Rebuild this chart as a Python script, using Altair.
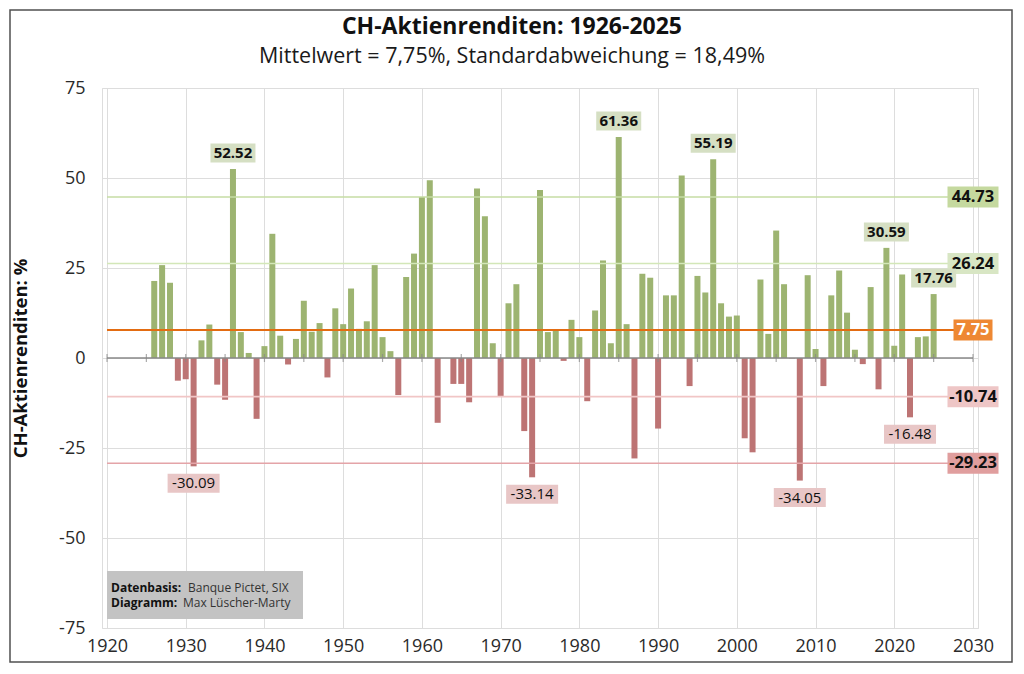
import altair as alt
import pandas as pd

# ---------------- data ----------------
years = list(range(1926, 2026))
returns = [
    21.4, 25.8, 20.9, -6.3, -5.9, -30.09, 4.9, 9.3, -7.4, -11.6,        # 1926-1935
    52.52, 7.2, 1.4, -16.9, 3.3, 34.5, 6.2, -1.8, 5.3, 15.9,            # 1936-1945
    7.3, 9.7, -5.4, 13.8, 9.4, 19.3, 8.1, 10.2, 25.8, 5.8,              # 1946-1955
    1.9, -10.3, 22.5, 29.0, 44.7, 49.4, -18.0, 0.0, -7.2, -7.2,         # 1956-1965
    -12.3, 47.1, 39.4, 4.1, -10.7, 15.2, 20.5, -20.3, -33.14, 46.7,     # 1966-1975
    7.2, 7.9, -0.8, 10.6, 5.8, -12.0, 13.2, 27.1, 4.1, 61.36,           # 1976-1985
    9.4, -27.9, 23.4, 22.3, -19.6, 17.4, 17.4, 50.7, -7.8, 22.8,        # 1986-1995
    18.2, 55.19, 15.2, 11.5, 11.8, -22.3, -26.2, 21.8, 6.7, 35.4,       # 1996-2005
    20.5, -0.1, -34.05, 23.0, 2.5, -7.8, 17.4, 24.3, 12.6, 2.3,         # 2006-2015
    -1.7, 19.7, -8.7, 30.59, 3.4, 23.2, -16.48, 5.8, 6.0, 17.76,        # 2016-2025
]
label_years = [1931, 1936, 1974, 1985, 1997, 2008, 2019, 2022, 2025]

ref_values = [44.73, 26.24, 7.75, -10.74, -29.23]
ref_labels = ["44.73", "26.24", "7.75", "-10.74", "-29.23"]
ref_line_colors = ["#c6dca4", "#d3e7b8", "#e36c12", "#f1c6c6", "#e4a4a8"]
ref_box_colors = ["#c5d99f", "#d8e6c4", "#ee8833", "#eec6c6", "#e09e9e"]
ref_text_colors = ["#111111", "#111111", "#ffffff", "#111111", "#111111"]
ref_line_widths = [1.6, 1.6, 2.0, 1.6, 1.6]

x_ticks = list(range(1920, 2031, 10))
minor_ticks = list(range(1920, 2031, 5))
y_ticks = [-75, -50, -25, 0, 25, 50, 75]

title_text = "CH-Aktienrenditen: 1926-2025"
subtitle_text = "Mittelwert = 7,75%, Standardabweichung = 18,49%"
y_title = "CH-Aktienrenditen: %"
source_rows = [("Datenbasis:", "Banque Pictet, SIX"), ("Diagramm:", "Max Lüscher-Marty")]

GREEN = "#9db471"
RED = "#bd7474"
GRID = "#999999"
FONT = "Open Sans"

# ---------------- tables ----------------
df = pd.DataFrame({"year": years, "ret": returns})
lab = df[df["year"].isin(label_years)].copy()
lab["txt"] = lab["ret"].map(lambda v: f"{v:.2f}")
lab_pos = lab[lab["ret"] >= 0]
lab_neg = lab[lab["ret"] < 0]

refdf = pd.DataFrame({
    "ret": ref_values, "txt": ref_labels, "lc": ref_line_colors,
    "bc": ref_box_colors, "tc": ref_text_colors, "lw": ref_line_widths,
})
ticksdf = pd.DataFrame({"year": minor_ticks})
one = pd.DataFrame({"a": [0]})

xscale = alt.Scale(domain=[1920, 2030], nice=False, zero=False)
yscale = alt.Scale(domain=[-75, 75], nice=False)

# ---------------- layers ----------------
bars = alt.Chart(df).mark_bar(width=6).encode(
    x=alt.X("year:Q", scale=xscale,
            axis=alt.Axis(values=x_ticks, labelExpr="'' + datum.value", grid=True, ticks=False,
                          domain=False, labelFontSize=18, labelPadding=9, labelColor="#2a2a2a",
                          title=None, labelFont=FONT)),
    y=alt.Y("ret:Q", scale=yscale, stack=None,
            axis=alt.Axis(values=y_ticks, labelExpr="'' + datum.value", grid=True, ticks=False,
                          domain=False, labelFontSize=18, labelPadding=17, labelColor="#2a2a2a",
                          labelFont=FONT, title=y_title, titleFontSize=18.5, titleFontWeight="bold",
                          titleColor="#111111", titleX=-82, titleY=270, titleAngle=270,
                          titleAlign="center", titleBaseline="middle", titleFont=FONT)),
    color=alt.condition("datum.ret >= 0", alt.value(GREEN), alt.value(RED)),
)

zero_line = alt.Chart(one).mark_rule(color="#888888", strokeWidth=1.5).encode(
    x=alt.datum(1920), x2=alt.datum(2030), y=alt.datum(0)
)
zero_ticks = alt.Chart(ticksdf).mark_tick(orient="vertical", size=8, thickness=1.2, color="#888888").encode(
    x=alt.X("year:Q", scale=xscale), y=alt.datum(0)
)

ref_rules = alt.Chart(refdf).mark_rule().encode(
    y=alt.Y("ret:Q", scale=yscale),
    x=alt.datum(1920), x2=alt.datum(2030),
    color=alt.Color("lc:N", scale=None),
    strokeWidth=alt.StrokeWidth("lw:Q", scale=None),
)

ref_boxes_wide = alt.Chart(refdf).transform_filter("datum.txt != '7.75'").mark_rect(width=51, height=21).encode(
    x=alt.datum(2030), y=alt.Y("ret:Q", scale=yscale), fill=alt.Color("bc:N", scale=None)
)
ref_boxes_narrow = alt.Chart(refdf).transform_filter("datum.txt == '7.75'").mark_rect(width=39, height=21).encode(
    x=alt.datum(2030), y=alt.Y("ret:Q", scale=yscale), fill=alt.Color("bc:N", scale=None)
)
ref_text = alt.Chart(refdf).mark_text(fontSize=16.5, fontWeight="bold", font=FONT, baseline="middle").encode(
    x=alt.datum(2030), y=alt.Y("ret:Q", scale=yscale), text="txt:N", color=alt.Color("tc:N", scale=None)
)

pos_boxes = alt.Chart(lab_pos).mark_rect(width=45, height=19, yOffset=-16, color="#d5dfc3").encode(
    x=alt.X("year:Q", scale=xscale), y=alt.Y("ret:Q", scale=yscale)
)
pos_text = alt.Chart(lab_pos).mark_text(yOffset=-16, fontSize=15, fontWeight="bold", font=FONT,
                                        baseline="middle", color="#111111").encode(
    x=alt.X("year:Q", scale=xscale), y=alt.Y("ret:Q", scale=yscale), text="txt:N"
)
neg_boxes = alt.Chart(lab_neg).mark_rect(width=52, height=19, yOffset=17, color="#e8c6c6").encode(
    x=alt.X("year:Q", scale=xscale), y=alt.Y("ret:Q", scale=yscale)
)
neg_text = alt.Chart(lab_neg).mark_text(yOffset=17, fontSize=15, font=FONT,
                                        baseline="middle", color="#111111").encode(
    x=alt.X("year:Q", scale=xscale), y=alt.Y("ret:Q", scale=yscale), text="txt:N"
)

# source box (annotation, bottom left of plot)
src_box = alt.Chart(one).mark_rect(color="#c3c3c3").encode(
    x=alt.value(5), x2=alt.value(201), y=alt.value(483), y2=alt.value(531)
)
src_layers = []
for i, (b, r) in enumerate(source_rows):
    yy = 500 + i * 15
    src_layers.append(alt.Chart(one).mark_text(text=b, fontSize=12, fontWeight="bold", font=FONT,
                                               align="left", baseline="middle", color="#111111").encode(
        x=alt.value(9), y=alt.value(yy)))
    src_layers.append(alt.Chart(one).mark_text(text=r, fontSize=12, font=FONT,
                                               align="left", baseline="middle", color="#333333").encode(
        x=alt.value(86 if i == 0 else 81), y=alt.value(yy)))

title_mark = alt.Chart(one).mark_text(text=title_text, fontSize=23, fontWeight="bold", font=FONT,
                                      align="center", baseline="middle", color="#111111").encode(
    x=alt.value(410), y=alt.value(-61))
subtitle_mark = alt.Chart(one).mark_text(text=subtitle_text, fontSize=21.5, font=FONT,
                                         align="center", baseline="middle", color="#1a1a1a").encode(
    x=alt.value(410), y=alt.value(-31))

frame = alt.Chart(one).mark_rect(filled=False, stroke="#505050", strokeWidth=1.5).encode(
    x=alt.value(-92), x2=alt.value(910), y=alt.value(-78), y2=alt.value(574)
)

chart = alt.layer(
    bars, ref_rules, zero_line, zero_ticks,
    ref_boxes_wide, ref_boxes_narrow, ref_text,
    pos_boxes, pos_text, neg_boxes, neg_text,
    src_box, *src_layers, title_mark, subtitle_mark, frame,
).properties(
    width=876, height=540,
    autosize=alt.AutoSizeParams(type="none"),
    padding={"left": 94, "top": 80, "right": 36, "bottom": 36},
).configure_view(stroke=GRID, strokeWidth=1).configure_axis(
    gridColor=GRID, gridWidth=1, gridOpacity=1
).configure(background="white")

chart.save("out.html", embed_options={"renderer": "svg", "actions": False})
